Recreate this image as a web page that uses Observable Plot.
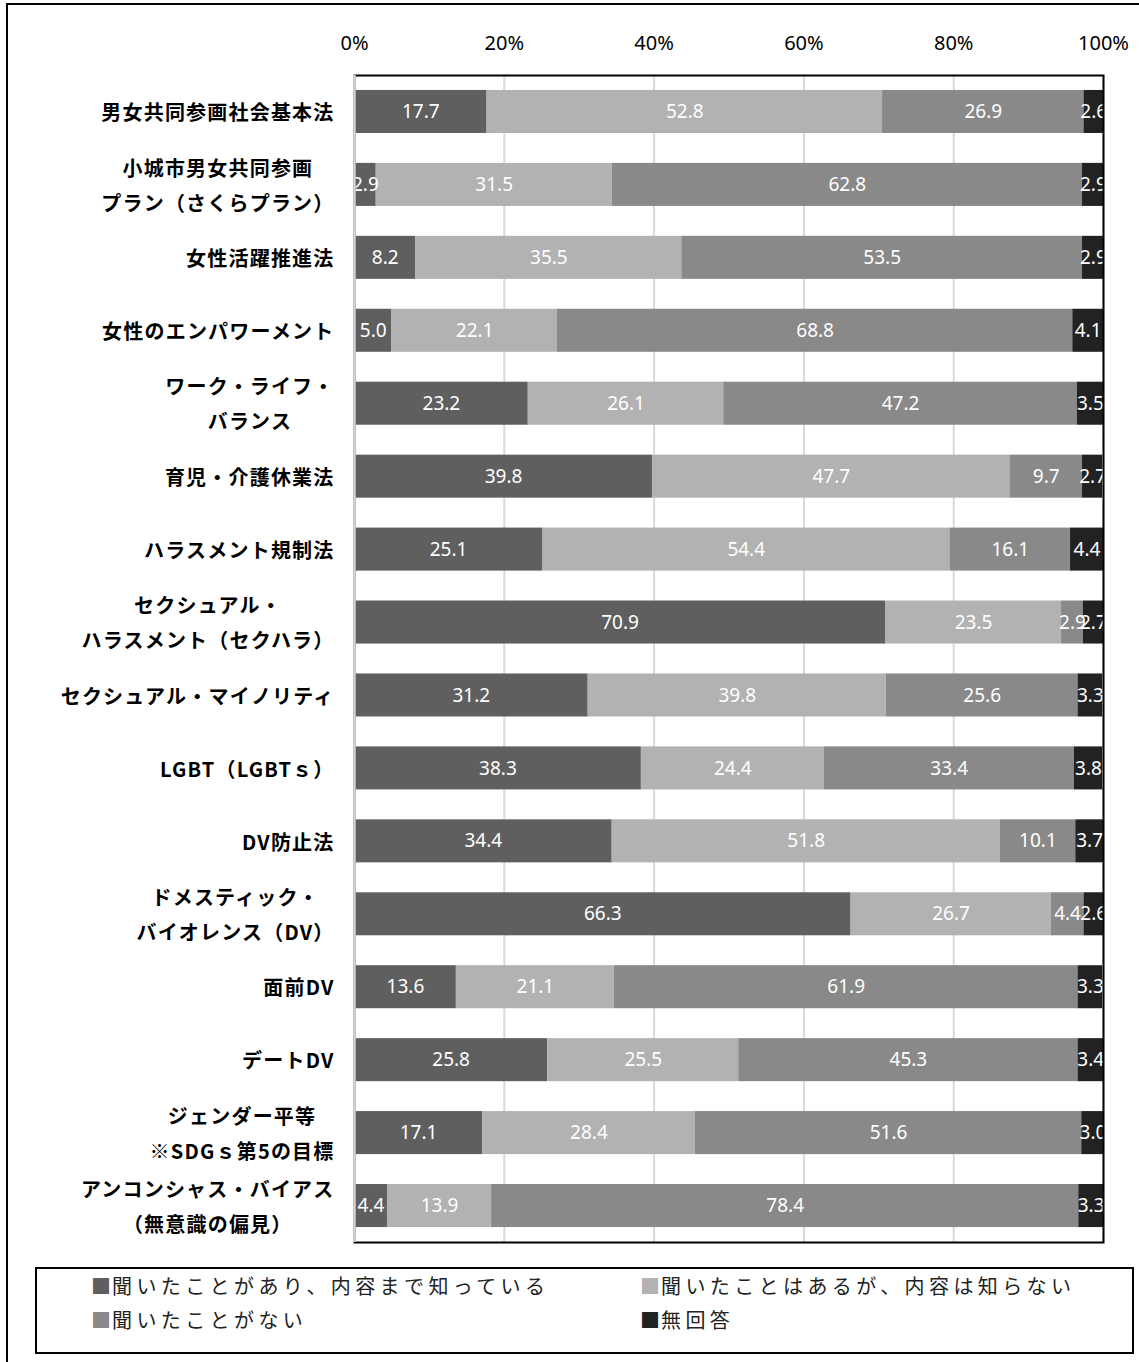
<!DOCTYPE html>
<html>
<head>
<meta charset="utf-8">
<script src="https://cdn.jsdelivr.net/npm/d3@7"></script>
<script src="https://cdn.jsdelivr.net/npm/@observablehq/plot@0.6"></script>
<style>
  html, body { margin: 0; padding: 0; background: #fff; }
  body { width: 1139px; height: 1362px; overflow: hidden; position: relative; font-family: "Noto Sans CJK JP", sans-serif; }
  #frame { position: absolute; left: 6px; top: 3px; width: 1300px; height: 1500px; border: 2px solid #000; box-sizing: border-box; }
  #chart { position: absolute; left: 0; top: 0; }
  #legend { position: absolute; left: 35px; top: 1267px; width: 1099px; height: 87px; border: 2px solid #000; box-sizing: border-box; background: #fff; }
  .item { position: absolute; font-size: 20px; letter-spacing: 4.4px; color: #222; line-height: 24px; white-space: nowrap; font-weight: 400; }
  .sw { letter-spacing: 1px; }
</style>
</head>
<body>
<div id="frame"></div>
<div id="chart"></div>
<div id="legend"></div>
<script>
const categories = [
  "男女共同参画社会基本法",
  "小城市男女共同参画\nプラン（さくらプラン）",
  "女性活躍推進法",
  "女性のエンパワーメント",
  "ワーク・ライフ・\nバランス",
  "育児・介護休業法",
  "ハラスメント規制法",
  "セクシュアル・\nハラスメント（セクハラ）",
  "セクシュアル・マイノリティ",
  "LGBT（LGBTｓ）",
  "DV防止法",
  "ドメスティック・\nバイオレンス（DV）",
  "面前DV",
  "デートDV",
  "ジェンダー平等\n※SDGｓ第5の目標",
  "アンコンシャス・バイアス\n（無意識の偏見）"
];
const seriesNames = [
  "聞いたことがあり、内容まで知っている",
  "聞いたことはあるが、内容は知らない",
  "聞いたことがない",
  "無回答"
];
const knowContent = [17.7, 2.9, 8.2, 5.0, 23.2, 39.8, 25.1, 70.9, 31.2, 38.3, 34.4, 66.3, 13.6, 25.8, 17.1, 4.4];
const heardOnly   = [52.8, 31.5, 35.5, 22.1, 26.1, 47.7, 54.4, 23.5, 39.8, 24.4, 51.8, 26.7, 21.1, 25.5, 28.4, 13.9];
const neverHeard  = [26.9, 62.8, 53.5, 68.8, 47.2, 9.7, 16.1, 2.9, 25.6, 33.4, 10.1, 4.4, 61.9, 45.3, 51.6, 78.4];
const noAnswer    = [2.6, 2.9, 2.9, 4.1, 3.5, 2.7, 4.4, 2.7, 3.3, 3.8, 3.7, 2.6, 3.3, 3.4, 3.0, 3.3];
const xTicks = [0, 20, 40, 60, 80, 100];
const colors = ["#5f5f5f", "#b2b2b2", "#898989", "#222222"];

const seriesValues = [knowContent, heardOnly, neverHeard, noAnswer];
const data = [];
categories.forEach((cat, i) => {
  seriesNames.forEach((s, j) => {
    data.push({cat, series: s, value: seriesValues[j][i]});
  });
});

const chart = Plot.plot({
  width: 1139,
  height: 1250,
  marginTop: 75,
  marginBottom: 8,
  marginLeft: 354,
  marginRight: 36,
  style: {background: "transparent", fontFamily: "'Noto Sans', 'Noto Sans CJK JP', sans-serif"},
  x: {domain: [0, 100], axis: null},
  y: {domain: categories, paddingInner: 0.41, paddingOuter: 0.205, round: false, axis: null},
  color: {domain: seriesNames, range: colors},
  marks: [
    Plot.ruleX(xTicks, {stroke: "#d9d9d9", strokeWidth: 2}),
    Plot.barX(data, Plot.stackX({x: "value", y: "cat", fill: "series", z: "series"})),
    Plot.text(data, Plot.stackX({
      x: "value", y: "cat", z: "series",
      text: d => d.value.toFixed(1),
      fill: "white", fontSize: 19, clip: true,
      fontFamily: "'Noto Sans', sans-serif"
    })),
    Plot.frame({stroke: "#000", strokeWidth: 2}),
    Plot.ruleX([0], {stroke: "#d9d9d9", strokeWidth: 2.5}),
    Plot.axisX(xTicks, {
      anchor: "top", tickSize: 0, tickPadding: 26, label: null,
      tickFormat: d => d + "%", fontSize: 20, fill: "#000",
      fontFamily: "'Noto Sans', sans-serif"
    }),
    Plot.axisY({
      anchor: "left", tickSize: 0, tickPadding: 20, label: null, dy: -3,
      fontSize: 20, fontWeight: "bold", lineHeight: 1.75, fill: "#000",
      fontFamily: "'Noto Sans CJK JP', sans-serif"
    })
  ]
});
document.getElementById("chart").appendChild(chart);

chart.querySelectorAll("g").forEach(el => {
  if (el.getAttribute("aria-label") === "y-axis tick label") el.style.letterSpacing = "1.2px";
});
// center multi-line category labels as a block (right aligned by widest line)
chart.querySelectorAll("text").forEach(t => {
  const spans = t.querySelectorAll("tspan");
  if (spans.length > 1) {
    let maxW = 0;
    spans.forEach(s => { maxW = Math.max(maxW, s.getComputedTextLength()); });
    t.setAttribute("text-anchor", "middle");
    spans.forEach(s => s.setAttribute("x", -maxW / 2));
  }
});

const legend = document.getElementById("legend");
const pos = [[54, 5], [603, 5], [54, 39], [603, 39]];
seriesNames.forEach((s, i) => {
  const el = document.createElement("div");
  el.className = "item";
  el.style.left = pos[i][0] + "px";
  el.style.top = pos[i][1] + "px";
  el.innerHTML = `<span class="sw" style="color:${colors[i]}">■</span>${s}`;
  legend.appendChild(el);
});
</script>
</body>
</html>
